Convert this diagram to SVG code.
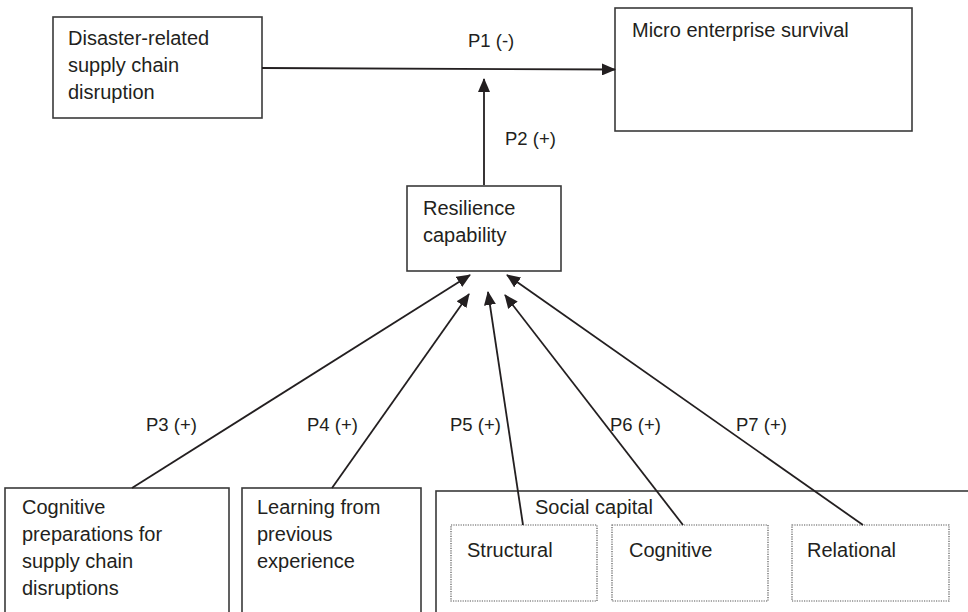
<svg xmlns="http://www.w3.org/2000/svg" width="968" height="612" viewBox="0 0 968 612">
<defs>
<marker id="ah" markerUnits="userSpaceOnUse" markerWidth="14" markerHeight="12" viewBox="0 0 14 12" refX="13" refY="6" orient="auto">
<path d="M0,0 L14,6 L0,12 z" fill="#231f20"/>
</marker>
<style>
.box{fill:#fff;stroke:#3a3a3a;stroke-width:1.6}
.dot{fill:none;stroke:#555;stroke-width:1.2;stroke-dasharray:1.2 1.2}
.t{font-family:"Liberation Sans",Arial,sans-serif;font-size:20px;fill:#231f20}
.l{font-family:"Liberation Sans",Arial,sans-serif;font-size:18.5px;fill:#231f20}
.c{fill:none;stroke:#231f20;stroke-width:1.8;marker-end:url(#ah)}
</style>
</defs>
<rect width="968" height="612" fill="#fff"/>
<g id="disruption">
<rect class="box" x="53" y="17" width="209" height="101"/>
<text class="t" x="68" y="45">Disaster-related</text>
<text class="t" x="68" y="72">supply chain</text>
<text class="t" x="68" y="99">disruption</text>
</g>
<g id="survival">
<rect class="box" x="615" y="8" width="297" height="123"/>
<text class="t" x="632" y="37">Micro enterprise survival</text>
</g>
<g id="resilience">
<rect class="box" x="407" y="186" width="154" height="85"/>
<text class="t" x="423" y="215">Resilience</text>
<text class="t" x="423" y="242">capability</text>
</g>
<g id="cognitive-prep">
<rect class="box" x="5" y="488" width="224" height="130"/>
<text class="t" x="22" y="514">Cognitive</text>
<text class="t" x="22" y="541">preparations for</text>
<text class="t" x="22" y="568">supply chain</text>
<text class="t" x="22" y="595">disruptions</text>
</g>
<g id="learning">
<rect class="box" x="242" y="488" width="179" height="130"/>
<text class="t" x="257" y="514">Learning from</text>
<text class="t" x="257" y="541">previous</text>
<text class="t" x="257" y="568">experience</text>
</g>
<g id="social-capital">
<rect class="box" x="436" y="491" width="540" height="130"/>
<text class="t" x="535" y="514">Social capital</text>
<g id="structural">
<rect class="dot" x="451" y="525" width="146" height="76"/>
<text class="t" x="467" y="557">Structural</text>
</g>
<g id="cognitive">
<rect class="dot" x="612" y="525" width="156" height="76"/>
<text class="t" x="629" y="557">Cognitive</text>
</g>
<g id="relational">
<rect class="dot" x="792" y="525" width="157" height="76"/>
<text class="t" x="807" y="557">Relational</text>
</g>
</g>
<g id="connectors">
<line class="c" x1="262" y1="68" x2="615" y2="69.5"/>
<line class="c" x1="484" y1="185" x2="484" y2="79"/>
<line class="c" x1="132" y1="488" x2="470" y2="275"/>
<line class="c" x1="332" y1="488" x2="469" y2="294"/>
<line class="c" x1="523" y1="525" x2="488" y2="292"/>
<line class="c" x1="683" y1="525" x2="505" y2="295"/>
<line class="c" x1="863" y1="525" x2="507" y2="275"/>
<text class="l" x="468" y="47">P1 (-)</text>
<text class="l" x="505" y="145">P2 (+)</text>
<text class="l" x="146" y="431">P3 (+)</text>
<text class="l" x="307" y="431">P4 (+)</text>
<text class="l" x="450" y="431">P5 (+)</text>
<text class="l" x="610" y="431">P6 (+)</text>
<text class="l" x="736" y="431">P7 (+)</text>
</g>
</svg>
